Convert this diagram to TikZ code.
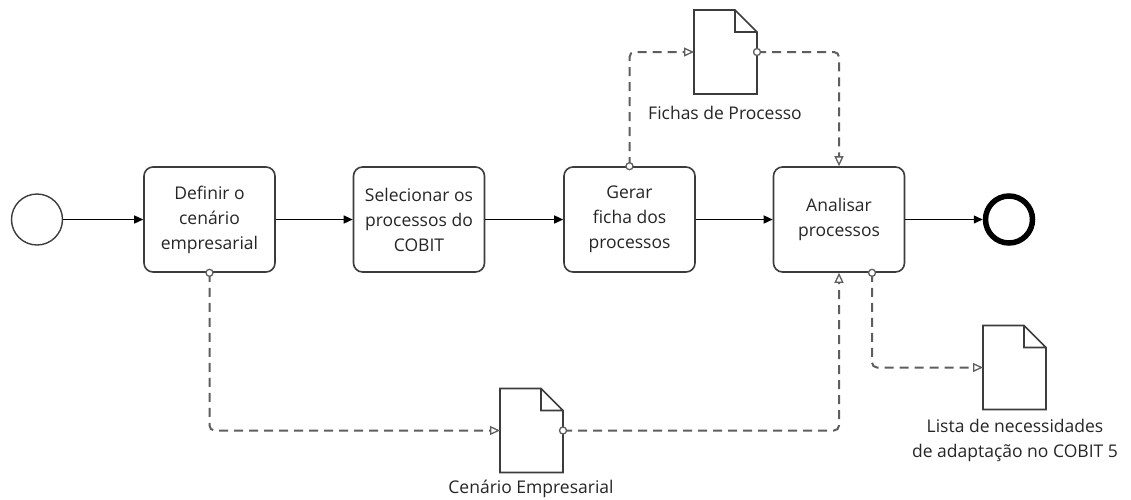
\documentclass[tikz,border=0pt]{standalone}
\usepackage{fontspec}
\setmainfont{Open Sans}
\usetikzlibrary{arrows.meta}
\definecolor{ink}{HTML}{262626}
\definecolor{edge}{HTML}{3C3C3C}
\definecolor{assocgray}{HTML}{5E5E5E}

% page outline with a folded top-right corner
\newcommand\drawdocpage[1]{%
  \draw[docline] (#1.south west) -- (#1.north west) -- ([xshift=-22pt]#1.north east)
    -- ([yshift=-22pt]#1.north east) -- (#1.south east) -- cycle
    ([xshift=-22pt]#1.north east) |- ([yshift=-22pt]#1.north east);}

\begin{document}
\begin{tikzpicture}[x=1pt,y=-1pt,
  txt/.style={text=ink, font=\fontsize{17.5}{25}\selectfont, align=center, inner sep=0pt},
  task/.style={txt, draw=edge, line width=1.6pt, rounded corners=9pt,
    minimum width=131pt, minimum height=105pt},
  startev/.style={circle, draw=edge, line width=1.4pt, minimum size=51pt, inner sep=0pt},
  endev/.style={circle, draw=black, line width=5.5pt, minimum size=47pt, inner sep=0pt},
  docnode/.style={minimum width=63pt, minimum height=84pt, inner sep=0pt, outer sep=0pt},
  docline/.style={draw=edge, line width=1.6pt, line join=miter},
  flow/.style={draw=black, line width=1.4pt, -{Triangle[length=9pt,width=8pt]}},
  assoc/.style={draw=assocgray, line width=2pt, dash pattern=on 9pt off 6pt,
    rounded corners=5pt, -{Triangle[open,length=10pt,width=9pt,line width=1.3pt]}},
  dotc/.style={draw=assocgray, fill=white, line width=1.3pt}]

\fill[white] (0,0) rectangle (1131,499);
\useasboundingbox (0,0) rectangle (1131,499);

% events and tasks
\node[startev] (start) at (37,219.5) {};
\node[task] (t1) at (209.5,219.5) {Definir o\\cenário\\empresarial};
\node[task] (t2) at (419,219.5) {Selecionar os\\processos do\\COBIT};
\node[task] (t3) at (629.5,219.5) {Gerar\\ficha dos\\processos};
\node[task] (t4) at (839,219.5) {Analisar\\processos};
\node[endev] (end) at (1009,219.5) {};

% data objects
\node[docnode] (fichas) at (725.5,52) {};
\node[docnode] (cenario) at (531.5,430.5) {};
\node[docnode] (lista) at (1014.5,367.5) {};
\drawdocpage{fichas}
\drawdocpage{cenario}
\drawdocpage{lista}

\node[txt] (fichaslbl) at (725,113) {Fichas de Processo};
\node[txt] (cenariolbl) at (531,489) {Cenário Empresarial};
\node[txt] (listalbl) at (1015,440) {Lista de necessidades\\de adaptação no COBIT 5};

% sequence flows
\draw[flow] (start) -- (t1);
\draw[flow] (t1) -- (t2);
\draw[flow] (t2) -- (t3);
\draw[flow] (t3) -- (t4);
\draw[flow] (t4) -- (end);

% data associations
\draw[assoc] (t3.north) |- (fichas.west);
\draw[assoc] (fichas.east) -| (t4.north);
\draw[assoc] (t1.south) |- (cenario.west);
\draw[assoc] (cenario.east) -| (t4.south);
\draw[assoc] ([xshift=33pt]t4.south) |- (lista.west);

% association origins
\draw[dotc] (t3.north) circle (3.5pt);
\draw[dotc] (fichas.east) circle (3.5pt);
\draw[dotc] (t1.south) circle (3.5pt);
\draw[dotc] (cenario.east) circle (3.5pt);
\draw[dotc] ([xshift=33pt]t4.south) circle (3.5pt);
\end{tikzpicture}
\end{document}
